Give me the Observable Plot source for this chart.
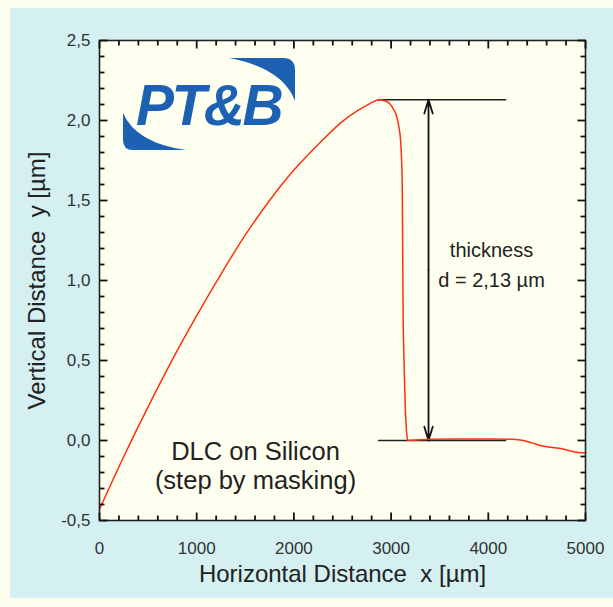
<!DOCTYPE html>
<html>
<head>
<meta charset="utf-8">
<script src="https://cdn.jsdelivr.net/npm/d3@7"></script>
<script src="https://cdn.jsdelivr.net/npm/@observablehq/plot@0.6"></script>
<style>
  html, body { margin: 0; padding: 0; background: #fefeee; }
  #wrap { position: relative; width: 613px; height: 607px; overflow: hidden; background: #fefeee; }
  #panel { position: absolute; left: 10px; top: 8px; width: 603px; height: 590px; background: #d5f0f0; }
  #chart { position: absolute; left: 0; top: 0; }
  #logo { position: absolute; left: 0; top: 0; pointer-events: none; }
</style>
</head>
<body>
<div id="wrap">
  <div id="panel"></div>
  <div id="chart"></div>
  <svg id="logo" width="613" height="607" xmlns="http://www.w3.org/2000/svg">
    <path d="M229,58 L283,58 Q295,58 295,70 L295,101 Q283,68 229,58 Z" fill="#1d62b2"/>
    <path d="M123,113 L123,140 Q123,150 133,150 L186,150 Q136,143 123,113 Z" fill="#1d62b2"/>
    <text x="136" y="125" font-family="Liberation Sans, Arial, sans-serif" font-size="57" font-weight="bold" font-style="italic" fill="#1d62b2" letter-spacing="-2.5">PT&amp;B</text>
  </svg>
</div>
<script>
// Measured profile (x in µm, y in µm)
const profileX = [0, 250, 500, 750, 1000, 1250, 1500, 1750, 2000, 2250, 2500, 2650, 2750, 2880, 2950, 3025, 3060, 3080, 3097, 3108, 3114, 3119, 3124, 3131, 3138, 3148, 3160, 3170, 3400, 3700, 4000, 4250, 4362, 4450, 4558, 4743, 4877, 5000];
const profileY = [-0.43, -0.10, 0.21, 0.505, 0.78, 1.04, 1.285, 1.50, 1.69, 1.85, 1.995, 2.06, 2.095, 2.13, 2.12, 2.07, 2.02, 1.96, 1.88, 1.75, 1.62, 1.2, 0.77, 0.55, 0.375, 0.17, 0.05, 0.0, 0.008, 0.01, 0.01, 0.008, 0.0, -0.015, -0.035, -0.05, -0.07, -0.078];

// Axis ticks
const xTicks = [0, 1000, 2000, 3000, 4000, 5000];
const yTicks = [-0.5, 0.0, 0.5, 1.0, 1.5, 2.0, 2.5];
const xMinor = [200, 400, 600, 800, 1200, 1400, 1600, 1800, 2200, 2400, 2600, 2800, 3200, 3400, 3600, 3800, 4200, 4400, 4600, 4800];
const yMinor = [-0.4, -0.3, -0.2, -0.1, 0.1, 0.2, 0.3, 0.4, 0.6, 0.7, 0.8, 0.9, 1.1, 1.2, 1.3, 1.4, 1.6, 1.7, 1.8, 1.9, 2.1, 2.2, 2.3, 2.4];

// Annotation values
const thickness = 2.13;
const stepLeft = 2870, stepRight = 4190, arrowX = 3385;
const thickLines = ["thickness", "d = 2,13 µm"];
const thickLineY = [1.19, 1.0];
const sampleLines = ["DLC on Silicon", "(step by masking)"];
const sampleLineY = [-0.07, -0.25];
const xLabel = "Horizontal Distance\u00a0 x [µm]";
const yLabel = "Vertical Distance\u00a0 y [µm]";

const profile = profileX.map((x, i) => ({x, y: profileY[i]}));
const fmt = d => d.toFixed(1).replace(".", ",");

// tick lengths in data units (1 px = 5000/486 on x, 3/480 on y)
const pxX = 5000 / 486, pxY = 3 / 480;
const tickRows = [];
for (const [list, len] of [[xTicks, 8], [xMinor, 5]]) {
  for (const v of list) {
    tickRows.push({x1: v, x2: v, y1: -0.5, y2: -0.5 + len * pxY});
    tickRows.push({x1: v, x2: v, y1: 2.5, y2: 2.5 - len * pxY});
  }
}
for (const [list, len] of [[yTicks, 8], [yMinor, 5]]) {
  for (const v of list) {
    tickRows.push({x1: 0, x2: len * pxX, y1: v, y2: v});
    tickRows.push({x1: 5000, x2: 5000 - len * pxX, y1: v, y2: v});
  }
}

const chart = Plot.plot({
  width: 613,
  height: 607,
  marginLeft: 99,
  marginRight: 28,
  marginTop: 40,
  marginBottom: 87,
  x: {domain: [0, 5000]},
  y: {domain: [-0.5, 2.5]},
  style: {background: "transparent", fontFamily: "Liberation Sans, Arial, sans-serif", color: "#222"},
  marks: [
    Plot.frame({fill: "#fffff0", stroke: null}),
    // tick labels
    Plot.axisX({anchor: "bottom", ticks: xTicks, tickSize: 0, tickPadding: 21, fontSize: 17, tickFormat: d => String(d), label: null, fill: "#333"}),
    Plot.axisY({anchor: "left", ticks: yTicks, tickSize: 0, tickPadding: 9, fontSize: 17, tickFormat: fmt, label: null, fill: "#333"}),
    // thickness reference lines
    Plot.ruleY([thickness, 0], {y: d => d, x1: stepLeft, x2: stepRight, stroke: "#222", strokeWidth: 1.4}),
    Plot.arrow([{y1: thickness / 2, y2: thickness}, {y1: thickness / 2, y2: 0}], {x1: arrowX, x2: arrowX, y1: "y1", y2: "y2", stroke: "#111", strokeWidth: 1.8, headLength: 12, headAngle: 34}),
    // profile
    Plot.line(profile, {x: "x", y: "y", stroke: "#ff3010", strokeWidth: 1.5, curve: "monotone-x"}),
    // texts
    Plot.text(thickLines, {x: 4033, y: (d, i) => thickLineY[i], text: d => d, fontSize: 20, fill: "#222", textAnchor: "middle"}),
    Plot.text(sampleLines, {x: 1605, y: (d, i) => sampleLineY[i], text: d => d, fontSize: 25.5, fill: "#222", textAnchor: "middle"}),
    Plot.text([xLabel], {frameAnchor: "bottom", dy: 61, text: d => d, fontSize: 24, fill: "#222", textAnchor: "middle"}),
    Plot.text([yLabel], {frameAnchor: "left", y: 1.0, dx: -62, rotate: -90, text: d => d, fontSize: 24, fill: "#222", textAnchor: "middle"}),
    Plot.frame({stroke: "#222", strokeWidth: 1.6}),
    // inward ticks on all four sides
    Plot.link(tickRows, {x1: "x1", x2: "x2", y1: "y1", y2: "y2", stroke: "#111", strokeWidth: 1.8})
  ]
});
document.getElementById("chart").appendChild(chart);
</script>
</body>
</html>
